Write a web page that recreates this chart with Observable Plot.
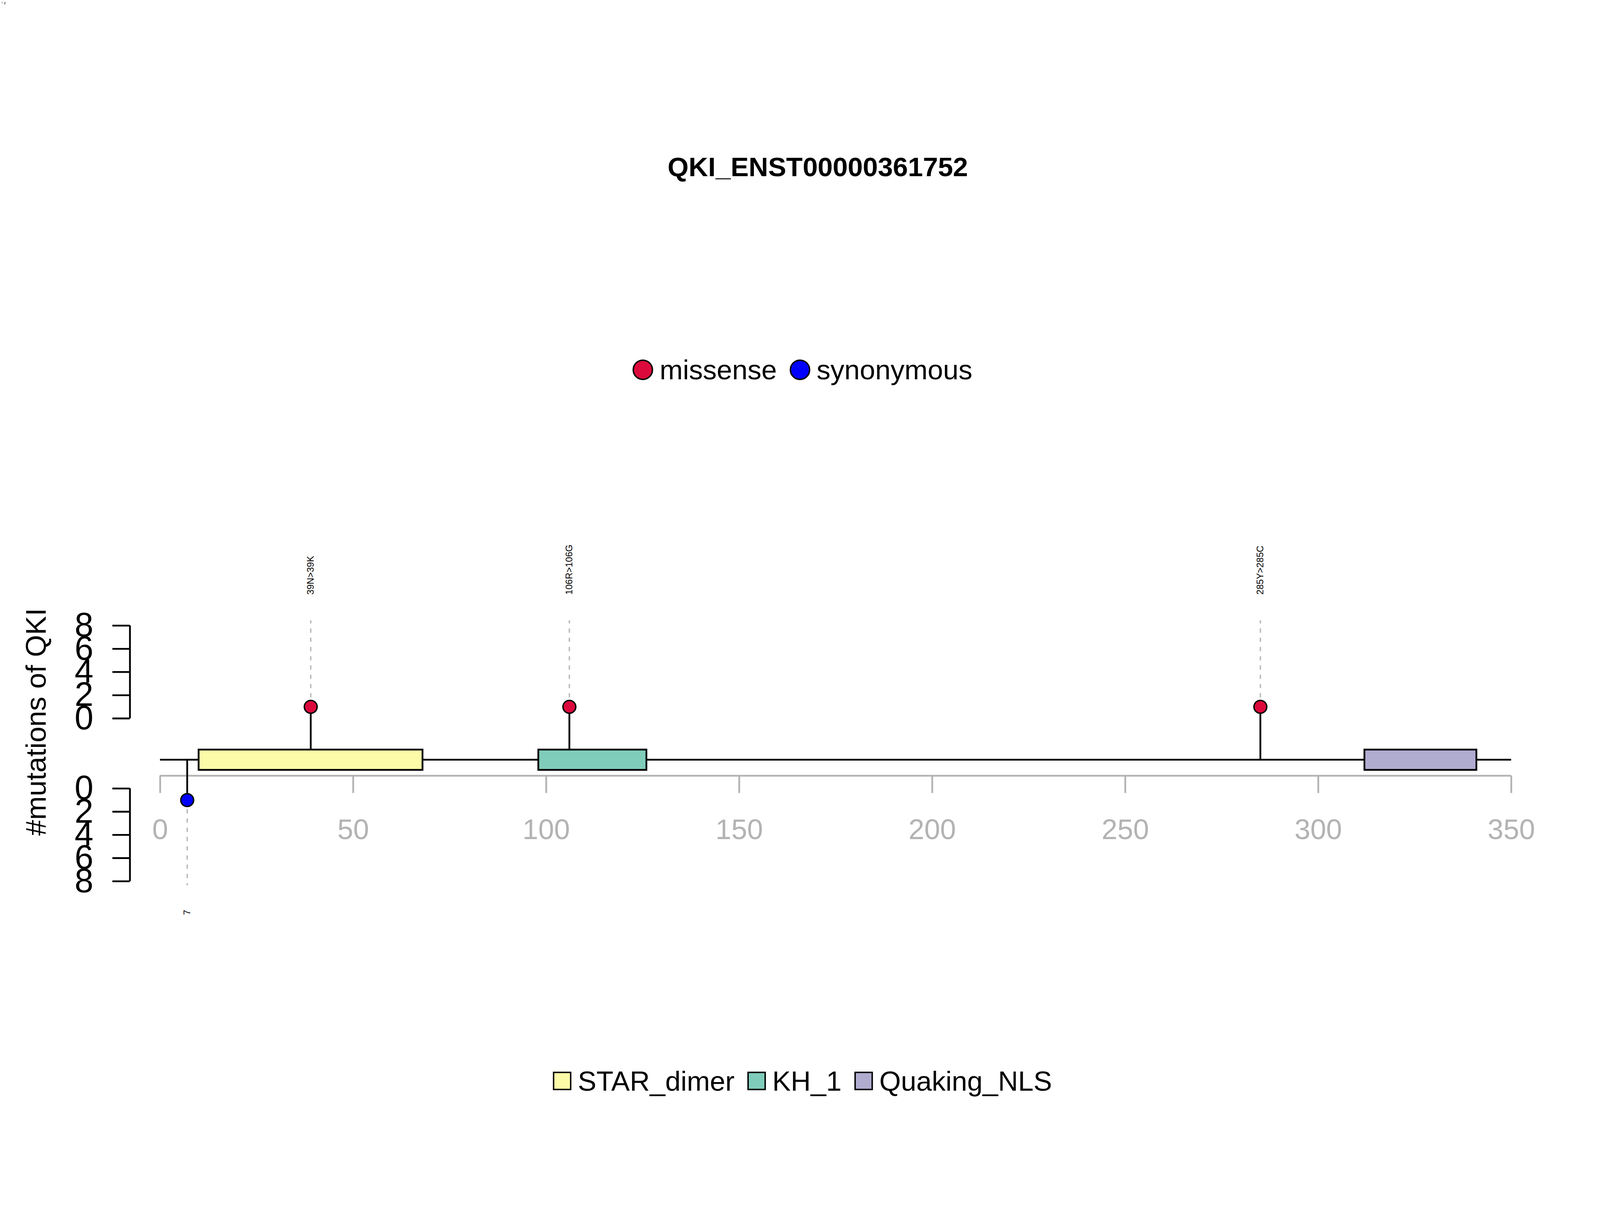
<!DOCTYPE html>
<html><head><meta charset="utf-8">
<script src="https://cdn.jsdelivr.net/npm/d3@7"></script>
<script src="https://cdn.jsdelivr.net/npm/@observablehq/plot@0.6"></script>
<style>
html,body{margin:0;padding:0;background:#fff;font-family:"Liberation Sans",Arial,sans-serif;overflow:hidden;}
#wrap{position:relative;width:4500px;height:3100px;overflow:hidden;transform-origin:0 0;}
#wrap svg{position:absolute;left:0;top:0;max-width:none;}
.abs{position:absolute;white-space:nowrap;box-sizing:border-box;}
.leg{display:flex;align-items:center;font-size:78px;color:#000;}
.dot{display:inline-block;width:58px;height:58px;border-radius:50%;border:4px solid #000;box-sizing:border-box;margin-right:18px;}
.sq{display:inline-block;width:52px;height:52px;border:4px solid #000;box-sizing:border-box;margin-right:18px;}
</style></head>
<body><div id="wrap"></div>
<script>
const title = "QKI_ENST00000361752";
const yTitle = "#mutations of QKI";
const proteinLength = 350;
const xTicks = [0,50,100,150,200,250,300,350];
const countTicks = [0,2,4,6,8];
// mutations
const mutPos = [39,106,285,7];
const mutLabel = ["39N>39K","106R>106G","285Y>285C","7"];
const mutCount = [1,1,1,1];
const mutType = ["missense","missense","missense","synonymous"];
const mutTrack = ["up","up","up","down"];
// domains
const domName = ["STAR_dimer","KH_1","Quaking_NLS"];
const domStart = [10,98,312];
const domEnd = [68,126,341];
const domColor = ["#FCFCA8","#80CCBB","#B0ACD0"];
const typeNames = ["missense","synonymous"];
const typeColors = ["#DC0A3C","#0000FF"];

// layout in count units (upper track unit)
const L = {backbone:-3.56, boxTop:-2.7, boxBot:-4.45, axis:-4.94, tickEnd:-6.44, xlab:-9.63,
  lowerOrigin:-6.04, dashTop:8.44, dashBot:-14.4, labUp:10.67, labDown:-16.5,
  yAxisX:-7.83, yTickX:-12.34, yLabX:-17.3, yTitleX:-32};

const muts = mutPos.map((p,i)=>({pos:p,label:mutLabel[i],count:mutCount[i],type:mutType[i],track:mutTrack[i]}));
muts.forEach(m=>{m.y = m.track==="up" ? m.count : L.lowerOrigin - m.count;});
const doms = domName.map((n,i)=>({name:n,s:domStart[i],e:domEnd[i],c:domColor[i]}));
const up = muts.filter(m=>m.track==="up"), down = muts.filter(m=>m.track==="down");
const upTicks = countTicks.map(t=>({t,y:t}));
const downTicks = countTicks.map(t=>({t,y:L.lowerOrigin - t}));
const allTicks = upTicks.concat(downTicks);

const plot = Plot.plot({
  width:4500, height:3100, margin:0,
  x:{domain:[0,proteinLength], range:[450,4250]},
  y:{domain:[0,8], range:[2020,1759]},
  color:{domain:typeNames, range:typeColors},
  style:{fontFamily:"Liberation Sans, Arial, sans-serif", background:"white"},
  marks:[
    Plot.ruleX(up,{x:"pos", y1:"y", y2:L.dashTop, stroke:"#bbbbbb", strokeWidth:4, strokeDasharray:"12,14"}),
    Plot.ruleX(down,{x:"pos", y1:"y", y2:L.dashBot, stroke:"#bbbbbb", strokeWidth:4, strokeDasharray:"12,14"}),
    Plot.ruleY([L.axis],{x1:0, x2:proteinLength, stroke:"#b3b3b3", strokeWidth:5}),
    Plot.ruleX(xTicks,{x:d=>d, y1:L.axis, y2:L.tickEnd, stroke:"#b3b3b3", strokeWidth:5}),
    Plot.text(xTicks,{x:d=>d, y:L.xlab, text:d=>String(d), fill:"#b3b3b3", fontSize:80}),
    Plot.ruleY([L.backbone],{x1:0, x2:proteinLength, stroke:"#000", strokeWidth:5}),
    Plot.ruleX(muts,{x:"pos", y1:L.backbone, y2:"y", stroke:"#000", strokeWidth:5}),
    Plot.rect(doms,{x1:"s", x2:"e", y1:L.boxBot, y2:L.boxTop, fill:"c", stroke:"#000", strokeWidth:5}),
    Plot.dot(muts,{x:"pos", y:"y", r:18, fill:"type", stroke:"#000", strokeWidth:4}),
    Plot.text(up,{x:"pos", y:L.labUp, text:"label", rotate:-90, textAnchor:"start", fontSize:26, fill:"#000"}),
    Plot.text(down,{x:"pos", y:L.labDown, text:"label", rotate:-90, textAnchor:"end", fontSize:26, fill:"#000"}),
    Plot.ruleX([L.yAxisX],{y1:0, y2:8, stroke:"#000", strokeWidth:5}),
    Plot.ruleX([L.yAxisX],{y1:L.lowerOrigin, y2:L.lowerOrigin-8, stroke:"#000", strokeWidth:5}),
    Plot.ruleY(allTicks,{y:"y", x1:L.yTickX, x2:L.yAxisX, stroke:"#000", strokeWidth:5}),
    Plot.text(allTicks,{y:"y", x:L.yLabX, text:d=>String(d.t), textAnchor:"end", fontSize:95, fill:"#000"}),
    Plot.text([yTitle],{x:L.yTitleX, y:-0.3, text:d=>d, rotate:-90, fontSize:80, fill:"#000"})
  ]
});
const wrap = document.getElementById("wrap");
wrap.appendChild(plot);

const t = document.createElement("div");
t.className="abs"; t.textContent = title;
t.style.cssText += "left:50px;width:4500px;text-align:center;top:425px;font-weight:bold;font-size:76px;";
wrap.appendChild(t);

function legend(top, items){
  const d = document.createElement("div");
  d.className="abs leg";
  d.style.cssText += `left:0;width:4500px;padding-left:50px;justify-content:center;top:${top}px;height:100px;`;
  items.forEach(h=>{const s=document.createElement("span"); s.style.cssText="display:flex;align-items:center;margin-right:36px;"; s.innerHTML=h; d.appendChild(s);});
  wrap.appendChild(d);
}
legend(990, typeNames.map((n,i)=>`<span class="dot" style="background:${typeColors[i]}"></span>${n}`));
legend(2990, doms.map(d=>`<span class="sq" style="background:${d.c}"></span>${d.name}`));

function fit(){ const s = window.innerWidth/4500; wrap.style.transform = `scale(${s})`; }
fit(); window.addEventListener("resize", fit);
</script></body></html>
